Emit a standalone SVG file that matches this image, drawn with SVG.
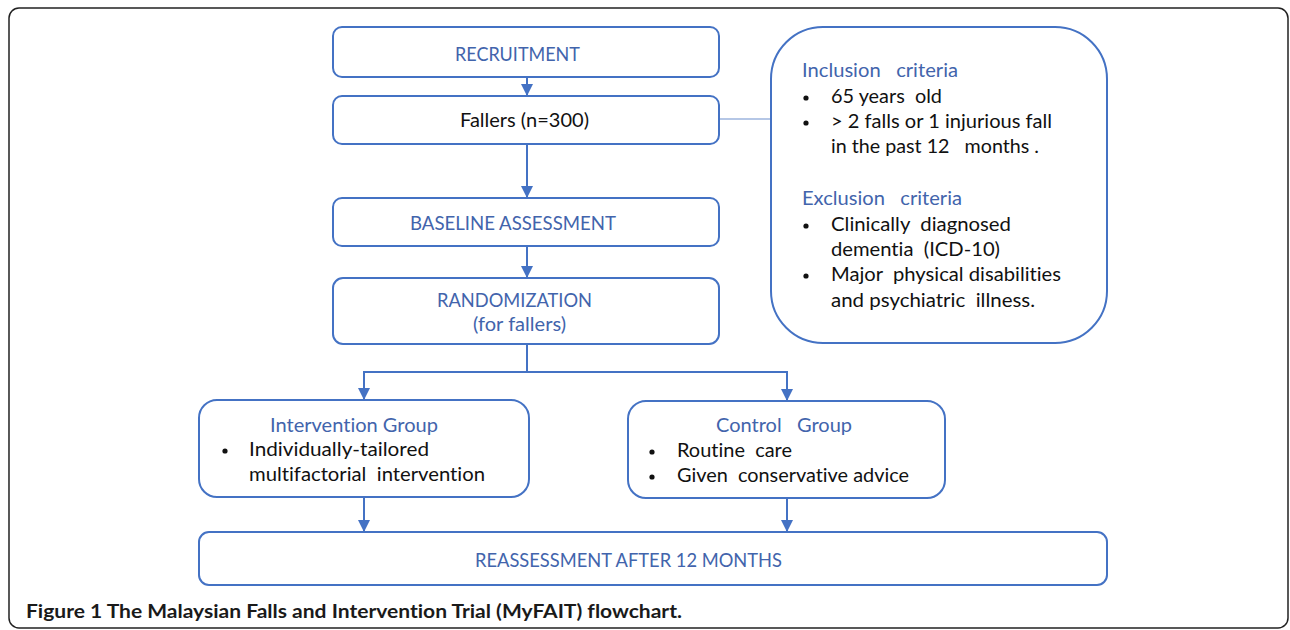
<svg xmlns="http://www.w3.org/2000/svg" width="1290" height="630" viewBox="0 0 1290 630">
<defs>
<marker id="ah" markerWidth="12" markerHeight="12" refX="12" refY="6" orient="auto" markerUnits="userSpaceOnUse" viewBox="0 0 12 12">
<path d="M0,0 L12,6 L0,12 Z" fill="#4472C4"/>
</marker>
<style>
.box{fill:#fff;stroke:#4472C4;stroke-width:2}
.t{font-family:Lato,"Open Sans",sans-serif;font-size:19.5px;font-variant-ligatures:none;font-feature-settings:"liga" 0}
.b{fill:#4264AC}
.k{fill:#111}
.d{fill:#111}
.c{fill:none;stroke:#4472C4;stroke-width:2}
.cap{font-family:Lato,"Open Sans",sans-serif;font-size:19px;font-weight:bold;fill:#1a1a1a;font-variant-ligatures:none}
</style>
</defs>
<rect x="9" y="8" width="1279" height="620" rx="10" fill="#fff" stroke="#222" stroke-width="1.5"/>
<g id="connectors">
<line x1="719" y1="119" x2="771" y2="119" stroke="#9DB5DE" stroke-width="1.5"/>
<path class="c" d="M527,77 V96" marker-end="url(#ah)"/>
<path class="c" d="M527,144 V198" marker-end="url(#ah)"/>
<path class="c" d="M527,246 V278" marker-end="url(#ah)"/>
<path class="c" d="M527,344 V372 H364 V400" marker-end="url(#ah)"/>
<path class="c" d="M527,372 H787 V401" marker-end="url(#ah)"/>
<path class="c" d="M364,497 V532" marker-end="url(#ah)"/>
<path class="c" d="M787,498 V532" marker-end="url(#ah)"/>
</g>
<g id="recruitment">
<rect class="box" x="333" y="27" width="386" height="50" rx="9"/>
<text class="t b" x="455" y="61" textLength="125" lengthAdjust="spacingAndGlyphs">RECRUITMENT</text>
</g>
<g id="fallers">
<rect class="box" x="333" y="96" width="386" height="48" rx="9"/>
<text class="t k" x="460" y="127" textLength="129" lengthAdjust="spacingAndGlyphs">Fallers (n=300)</text>
</g>
<g id="baseline">
<rect class="box" x="333" y="198" width="386" height="48" rx="9"/>
<text class="t b" x="410" y="230" textLength="206" lengthAdjust="spacingAndGlyphs">BASELINE ASSESSMENT</text>
</g>
<g id="randomization">
<rect class="box" x="333" y="278" width="386" height="66" rx="10"/>
<text class="t b" x="437" y="307" textLength="155" lengthAdjust="spacingAndGlyphs">RANDOMIZATION</text>
<text class="t b" x="473" y="331" textLength="93" lengthAdjust="spacingAndGlyphs">(for fallers)</text>
</g>
<g id="criteria">
<rect class="box" x="771" y="27" width="336" height="316" rx="52"/>
<text class="t b" x="802" y="77" textLength="156" lengthAdjust="spacingAndGlyphs" xml:space="preserve">Inclusion   criteria</text>
<circle class="d" cx="806" cy="98" r="2.6"/>
<text class="t k" x="831" y="103" textLength="111" lengthAdjust="spacingAndGlyphs" xml:space="preserve">65 years  old</text>
<circle class="d" cx="806" cy="123" r="2.6"/>
<text class="t k" x="831" y="128" textLength="221" lengthAdjust="spacingAndGlyphs">&gt; 2 falls or 1 injurious fall</text>
<text class="t k" x="831" y="153" textLength="208" lengthAdjust="spacingAndGlyphs" xml:space="preserve">in the past 12   months .</text>
<text class="t b" x="802" y="205" textLength="160" lengthAdjust="spacingAndGlyphs" xml:space="preserve">Exclusion   criteria</text>
<circle class="d" cx="806" cy="226" r="2.6"/>
<text class="t k" x="831" y="231" textLength="180" lengthAdjust="spacingAndGlyphs" xml:space="preserve">Clinically  diagnosed</text>
<text class="t k" x="831" y="256" textLength="169" lengthAdjust="spacingAndGlyphs" xml:space="preserve">dementia  (ICD-10)</text>
<circle class="d" cx="806" cy="276" r="2.6"/>
<text class="t k" x="831" y="281" textLength="230" lengthAdjust="spacingAndGlyphs" xml:space="preserve">Major  physical disabilities</text>
<text class="t k" x="831" y="307" textLength="204" lengthAdjust="spacingAndGlyphs" xml:space="preserve">and psychiatric  illness.</text>
</g>
<g id="intervention">
<rect class="box" x="199" y="400" width="330" height="97" rx="18"/>
<text class="t b" x="270" y="432" textLength="168" lengthAdjust="spacingAndGlyphs">Intervention Group</text>
<circle class="d" cx="225" cy="451" r="2.6"/>
<text class="t k" x="249" y="456" textLength="180" lengthAdjust="spacingAndGlyphs">Individually-tailored</text>
<text class="t k" x="249" y="481" textLength="236" lengthAdjust="spacingAndGlyphs" xml:space="preserve">multifactorial  intervention</text>
</g>
<g id="control">
<rect class="box" x="628" y="401" width="317" height="97" rx="18"/>
<text class="t b" x="716" y="432" textLength="136" lengthAdjust="spacingAndGlyphs" xml:space="preserve">Control   Group</text>
<circle class="d" cx="652" cy="452" r="2.6"/>
<text class="t k" x="677" y="457" textLength="115" lengthAdjust="spacingAndGlyphs" xml:space="preserve">Routine  care</text>
<circle class="d" cx="652" cy="477" r="2.6"/>
<text class="t k" x="677" y="482" textLength="232" lengthAdjust="spacingAndGlyphs" xml:space="preserve">Given  conservative advice</text>
</g>
<g id="reassessment">
<rect class="box" x="199" y="532" width="908" height="53" rx="10"/>
<text class="t b" x="475" y="567" textLength="307" lengthAdjust="spacingAndGlyphs">REASSESSMENT AFTER 12 MONTHS</text>
</g>
<text class="cap" x="26" y="618" textLength="656" lengthAdjust="spacingAndGlyphs">Figure 1 The Malaysian Falls and Intervention Trial (MyFAIT) flowchart.</text>
</svg>
